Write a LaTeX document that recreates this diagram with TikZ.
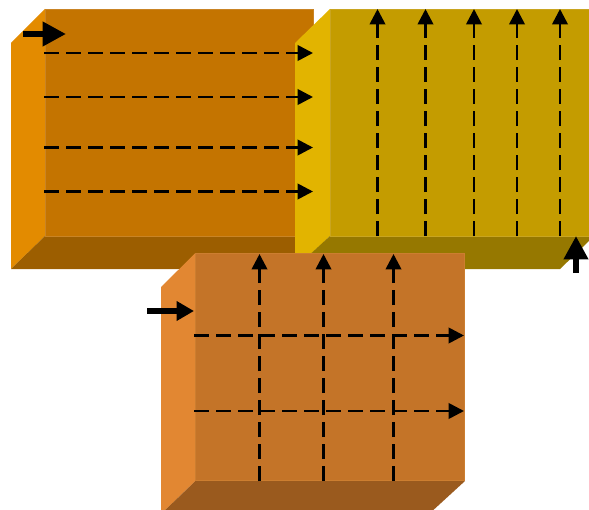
\documentclass[tikz,border=0pt]{standalone}
\usepackage{tikz}
\usetikzlibrary{arrows.meta}
\tikzset{>={Triangle[width=11.5pt,length=11.5pt]}}
\definecolor{frontA}{HTML}{C47400}
\definecolor{sideA}{HTML}{E38B00}
\definecolor{baseA}{HTML}{9C5E00}
\definecolor{edgeA}{HTML}{C98425}
\definecolor{frontB}{HTML}{C49C00}
\definecolor{sideB}{HTML}{E2B400}
\definecolor{baseB}{HTML}{967800}
\definecolor{edgeB}{HTML}{C9A520}
\definecolor{frontC}{HTML}{C47428}
\definecolor{sideC}{HTML}{E28732}
\definecolor{baseC}{HTML}{9A5A1E}
\definecolor{edgeC}{HTML}{CC7E30}

\begin{document}
\begin{tikzpicture}[x=0.75pt, y=-0.75pt,
  flow/.style = {->, line width=2pt, dash pattern=on 11.25pt off 5.25pt},
  bigflow/.style = {-{Triangle[width=17.5pt,length=17.5pt]}, line width=5pt},
  smallflow/.style = {-{Triangle[width=14pt,length=13pt]}, line width=4.5pt}]
\useasboundingbox (0,0) rectangle (589,510);
\clip (0,0) rectangle (589,510);
% first block
\fill[sideA] (11,43) -- (45,9) -- (45,236) -- (11,269) -- cycle;
\fill[baseA] (11,269) -- (45,236) -- (314,236) -- (281,269) -- cycle;
\fill[frontA, draw=edgeA, line width=0.5pt] (45,9) -- (313.5,9) -- (313.5,236) -- (45,236) -- cycle;
% second block
\fill[sideB] (295,43) -- (330,9) -- (330,236) -- (295,269) -- cycle;
\fill[baseB] (294,269) -- (330,236) -- (589,236) -- (589,241) -- (560,269) -- cycle;
\fill[frontB, draw=edgeB, line width=0.5pt] (330,9) -- (590,9) -- (590,236) -- (330,236) -- cycle;
% third block
\fill[sideC] (161,287) -- (195.5,253) -- (195.5,481) -- (161,514) -- cycle;
\fill[baseC] (161,514) -- (195.5,481) -- (465,481) -- (429,514) -- cycle;
\fill[frontC, draw=edgeC, line width=0.5pt] (195.5,253) -- (464.5,253) -- (464.5,480.5) -- (195.5,480.5) -- cycle;
% flow ends
\coordinate (a1) at (44,53);
\coordinate (b1) at (313,53);
\coordinate (a2) at (44,97);
\coordinate (b2) at (313,97);
\coordinate (a3) at (44,147.5);
\coordinate (b3) at (313,147.5);
\coordinate (a4) at (44,191.5);
\coordinate (b4) at (313,191.5);
\coordinate (c1) at (377.5,236);
\coordinate (d1) at (377.5,9);
\coordinate (c2) at (425.5,236);
\coordinate (d2) at (425.5,9);
\coordinate (c3) at (474,236);
\coordinate (d3) at (474,9);
\coordinate (c4) at (517,236);
\coordinate (d4) at (517,9);
\coordinate (c5) at (560,236);
\coordinate (d5) at (560,9);
\coordinate (e1) at (259.5,481);
\coordinate (f1) at (259.5,254);
\coordinate (e2) at (323.5,481);
\coordinate (f2) at (323.5,254);
\coordinate (e3) at (393.5,481);
\coordinate (f3) at (393.5,254);
\coordinate (g1) at (194,335.5);
\coordinate (h1) at (464,335.5);
\coordinate (g2) at (194,411);
\coordinate (h2) at (464,411);
\coordinate (p1) at (23,34);
\coordinate (q1) at (66,34);
\coordinate (p2) at (576,273);
\coordinate (q2) at (576,236);
\coordinate (p3) at (147,311);
\coordinate (q3) at (194,311);
\draw[flow] (a1) -- (b1);
\draw[flow] (a2) -- (b2);
\draw[flow] (a3) -- (b3);
\draw[flow] (a4) -- (b4);
\draw[flow] (c1) -- (d1);
\draw[flow] (c2) -- (d2);
\draw[flow] (c3) -- (d3);
\draw[flow] (c4) -- (d4);
\draw[flow] (c5) -- (d5);
\draw[flow] (e1) -- (f1);
\draw[flow] (e2) -- (f2);
\draw[flow] (e3) -- (f3);
\draw[flow] (g1) -- (h1);
\draw[flow] (g2) -- (h2);
\draw[bigflow] (p1) -- (q1);
\draw[bigflow] (p2) -- (q2);
\draw[smallflow] (p3) -- (q3);
\end{tikzpicture}
\end{document}
